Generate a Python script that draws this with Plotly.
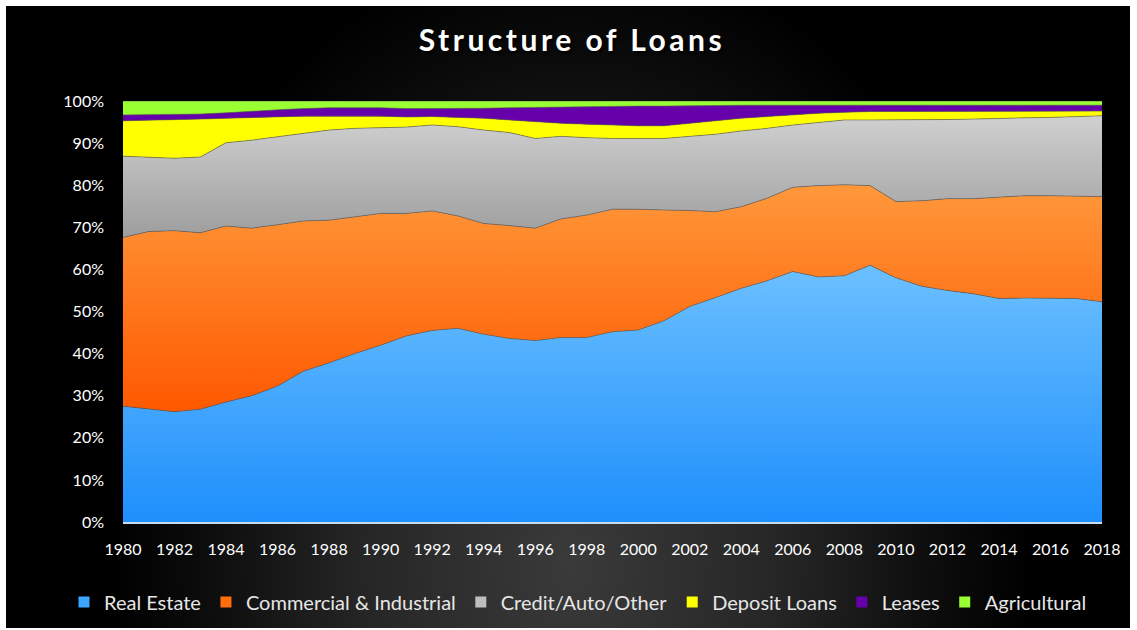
import base64
import plotly.graph_objects as go

# ---- data: share of total loans (%) by category ----
years = list(range(1980, 2019))

real_estate = [27.5, 26.8, 26.2, 26.8, 28.5, 30.0, 32.3, 35.8, 37.8, 40.0,
               42.0, 44.2, 45.5, 46.0, 44.6, 43.6, 43.1, 43.8, 43.8, 45.2,
               45.6, 47.8, 51.2, 53.3, 55.5, 57.3, 59.5, 58.2, 58.5, 61.0,
               58.0, 56.0, 55.0, 54.2, 53.1, 53.2, 53.2, 53.1, 52.3]
commercial = [40.1, 42.2, 43.0, 41.9, 41.8, 39.8, 38.3, 35.7, 33.9, 32.5,
              31.3, 29.1, 28.4, 26.7, 26.3, 26.8, 26.7, 28.2, 29.1, 29.1,
              28.7, 26.3, 22.8, 20.4, 19.4, 19.6, 20.0, 21.7, 21.6, 18.9,
              18.1, 20.3, 21.8, 22.6, 24.1, 24.3, 24.3, 24.3, 25.0]
credit_other = [19.3, 17.6, 17.2, 18.0, 19.8, 20.9, 20.9, 20.8, 21.4, 21.0,
                20.4, 20.5, 20.4, 21.2, 22.2, 22.1, 21.3, 19.6, 18.4, 16.8,
                16.8, 17.0, 17.6, 18.4, 18.0, 16.6, 14.8, 15.0, 15.4, 15.6,
                19.4, 19.3, 18.8, 18.9, 18.7, 18.5, 18.6, 18.9, 19.2]
deposit = [8.4, 8.8, 9.2, 9.0, 5.8, 5.4, 4.8, 4.1, 3.3, 2.9,
           2.7, 2.4, 2.0, 2.2, 2.8, 3.0, 4.0, 3.1, 3.2, 3.2,
           3.0, 3.0, 3.1, 3.1, 3.0, 2.8, 2.4, 2.2, 1.8, 2.0,
           2.0, 1.9, 1.9, 1.8, 1.6, 1.5, 1.5, 1.3, 1.1]
leases = [1.4, 1.4, 1.3, 1.2, 1.3, 1.5, 1.6, 1.8, 2.0, 2.0,
          2.0, 2.0, 1.9, 2.1, 2.4, 2.9, 3.4, 3.9, 4.1, 4.4,
          4.7, 4.7, 4.2, 3.7, 3.1, 2.7, 2.3, 1.9, 1.7, 1.5,
          1.5, 1.5, 1.5, 1.5, 1.5, 1.5, 1.4, 1.4, 1.4]
agricultural = [3.3, 3.2, 3.1, 3.1, 2.8, 2.4, 2.1, 1.8, 1.6, 1.6,
                1.6, 1.8, 1.8, 1.8, 1.7, 1.6, 1.5, 1.4, 1.4, 1.3,
                1.2, 1.2, 1.1, 1.1, 1.0, 1.0, 1.0, 1.0, 1.0, 1.0,
                1.0, 1.0, 1.0, 1.0, 1.0, 1.0, 1.0, 1.0, 1.0]

series = [
    ("Real Estate", real_estate, "rgb(30,143,252)", "rgb(108,192,255)", 0, 61),
    ("Commercial & Industrial", commercial, "rgb(255,88,0)", "rgb(255,152,58)", 26, 80),
    ("Credit/Auto/Other", credit_other, "rgb(158,158,158)", "rgb(208,208,208)", 68, 96.5),
    ("Deposit Loans", deposit, "rgb(255,255,0)", "rgb(255,255,0)", 86, 98),
    ("Leases", leases, "rgb(102,0,170)", "rgb(102,0,170)", 94, 99),
    ("Agricultural", agricultural, "rgb(153,255,51)", "rgb(153,255,51)", 96, 100),
]
legend_swatch = {
    "Real Estate": "rgb(60,165,255)",
    "Commercial & Industrial": "rgb(255,110,10)",
    "Credit/Auto/Other": "rgb(190,190,190)",
    "Deposit Loans": "rgb(255,255,0)",
    "Leases": "rgb(102,0,170)",
    "Agricultural": "rgb(153,255,51)",
}

fig = go.Figure()
for name, vals, c0, c1, g0, g1 in series:
    fig.add_trace(go.Scatter(
        x=years, y=vals, name=name, mode="lines",
        stackgroup="loans", groupnorm="percent",
        line=dict(width=0.8, color="rgba(95,95,95,0.75)"),
        fillcolor=c1,
        fillgradient=dict(type="vertical", start=g0, stop=g1,
                          colorscale=[[0, c0], [1, c1]]),
        showlegend=False, legendgroup=name,
    ))

# square legend keys
for name, *_ in series:
    fig.add_trace(go.Scatter(
        x=[None], y=[None], name=name, mode="markers",
        marker=dict(symbol="square", size=11, color=legend_swatch[name],
                    line=dict(width=0)),
        legendgroup=name, showlegend=True, hoverinfo="skip",
    ))

# dark radial backdrop framed by a thin white page border
W, H = 1124, 622
svg = (
    f'<svg xmlns="http://www.w3.org/2000/svg" width="{W}" height="{H}" '
    f'viewBox="0 0 {W} {H}" preserveAspectRatio="none">'
    '<defs><radialGradient id="g" gradientUnits="userSpaceOnUse" cx="0" cy="0" r="1" '
    'gradientTransform="translate(565 555) scale(460 620)">'
    '<stop offset="0" stop-color="#3a3a3a"/>'
    '<stop offset="0.45" stop-color="#262626"/>'
    '<stop offset="0.8" stop-color="#0c0c0c"/>'
    '<stop offset="1" stop-color="#000000"/>'
    '</radialGradient></defs>'
    f'<rect width="{W}" height="{H}" fill="url(#g)"/></svg>'
)
bg_src = "data:image/svg+xml;base64," + base64.b64encode(svg.encode()).decode()

plot_l, plot_r, plot_t, plot_b = 123, 1102, 101, 522
pw, ph = plot_r - plot_l, plot_b - plot_t

fig.add_layout_image(dict(
    source=bg_src, xref="paper", yref="paper",
    x=(6 - plot_l) / pw, y=(plot_b - 6) / ph,
    sizex=W / pw, sizey=H / ph,
    xanchor="left", yanchor="top", sizing="stretch", layer="below",
))

font_family = "Lato, 'Open Sans', sans-serif"

fig.update_layout(
    width=1137, height=630,
    margin=dict(l=plot_l, r=1137 - plot_r, t=plot_t, b=630 - plot_b,
                autoexpand=False),
    paper_bgcolor="white",
    plot_bgcolor="rgba(0,0,0,0)",
    font=dict(family=font_family, color="white", size=16),
    title=dict(
        text='<span style="letter-spacing:3.5px">Structure of Loans</span>',
        x=572 / 1137, xanchor="center",
        y=1 - 40 / 630, yanchor="middle",
        font=dict(family=font_family, size=30, weight="bold", color="white",
                  shadow="2px 2px 3px #000000"),
    ),
    showlegend=True,
    legend=dict(
        orientation="h", xref="paper", yref="paper",
        x=(64 - plot_l) / pw, xanchor="left",
        y=(plot_b - 602) / ph, yanchor="middle",
        font=dict(family=font_family, size=20, color="#e6e6e6"),
        bgcolor="rgba(0,0,0,0)", traceorder="normal",
        itemwidth=30,
    ),
    xaxis=dict(
        range=[1980, 2018], tickmode="linear", tick0=1980, dtick=2,
        showgrid=False, zeroline=False,
        showline=True, linecolor="#c9dcec", linewidth=1.5,
        ticks="", ticklabelstandoff=12,
        tickfont=dict(family=font_family, size=16, color="white"),
    ),
    yaxis=dict(
        range=[0, 100], tickmode="linear", tick0=0, dtick=10, ticksuffix="%",
        showgrid=False, zeroline=False, showline=False,
        ticks="", ticklabelstandoff=18,
        tickfont=dict(family=font_family, size=16, color="white"),
    ),
)

fig.write_html("out.html")
